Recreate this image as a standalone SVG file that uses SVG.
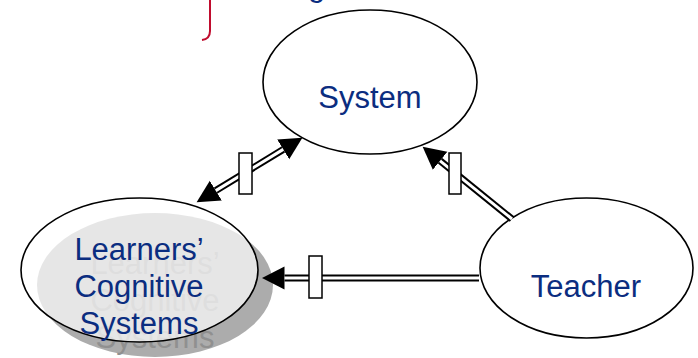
<svg xmlns="http://www.w3.org/2000/svg" width="698" height="358" viewBox="0 0 698 358">
  <style>
    .node { fill: #ffffff; stroke: #000000; stroke-width: 1.6; }
    .lbl { font-family: "Liberation Sans", Arial, sans-serif; font-size: 31px; fill: #0b2d80; text-anchor: middle; }
    .ghost { font-family: "Liberation Sans", Arial, sans-serif; font-size: 31px; fill: #909090; text-anchor: middle; }
    .outer { fill: none; stroke: #000000; stroke-width: 7; }
    .inner { fill: none; stroke: #ffffff; stroke-width: 3; }
    .bar { fill: #ffffff; stroke: #000000; stroke-width: 1.5; }
  </style>
  <defs>
    <marker id="head" markerUnits="userSpaceOnUse" markerWidth="23" markerHeight="24" refX="0" refY="11.5" orient="auto-start-reverse" viewBox="0 0 23 23">
      <path d="M0,0 L22.5,11.5 L0,23 Z" fill="#000000"/>
    </marker>
  </defs>
  <rect x="0" y="0" width="698" height="358" fill="#ffffff"/>

  <g id="title-fragment">
    <text x="308" y="-4.5" class="lbl" style="text-anchor:start">g</text>
    <path d="M210,0 L210,31 Q210,39 202,40" fill="none" stroke="#c00c2e" stroke-width="2"/>
  </g>

  <g id="system">
    <ellipse cx="370" cy="82" rx="107" ry="72" class="node"/>
    <text x="370" y="108" class="lbl">System</text>
  </g>

  <g id="learners">
    <ellipse cx="155" cy="285" rx="118" ry="72" fill="#acacac"/>
    <text class="ghost" x="155"><tspan x="155" y="274">Learners’</tspan><tspan x="155" y="311">Cognitive</tspan><tspan x="155" y="348">Systems</tspan></text>
    <ellipse cx="139.5" cy="270" rx="118.5" ry="72" fill="#ffffff" fill-opacity="0.7" stroke="#000000" stroke-width="1.6"/>
    <text class="lbl" x="139"><tspan x="139" y="260">Learners’</tspan><tspan x="139" y="297">Cognitive</tspan><tspan x="139" y="334">Systems</tspan></text>
  </g>

  <g id="teacher">
    <ellipse cx="586.5" cy="268" rx="106.5" ry="70" class="node"/>
    <text x="586" y="297" class="lbl">Teacher</text>
  </g>

  <g id="connectors">
    <g id="learners-system">
      <path d="M215.8,190.6 L283.2,149.4" class="outer" marker-start="url(#head)" marker-end="url(#head)"/>
      <path d="M215.8,190.6 L283.2,149.4" class="inner"/>
      <rect x="239" y="153" width="13" height="41" class="bar"/>
    </g>
    <g id="teacher-system">
      <path d="M512,219 L440.1,160.8" class="outer" marker-end="url(#head)"/>
      <path d="M512,219 L440.1,160.8" class="inner"/>
      <rect x="449" y="153" width="12" height="41" class="bar"/>
    </g>
    <g id="teacher-learners">
      <path d="M479,278 L284.5,278" class="outer" marker-end="url(#head)"/>
      <path d="M479,278 L284.5,278" class="inner"/>
      <rect x="309" y="256" width="13" height="42" class="bar"/>
    </g>
  </g>
</svg>
